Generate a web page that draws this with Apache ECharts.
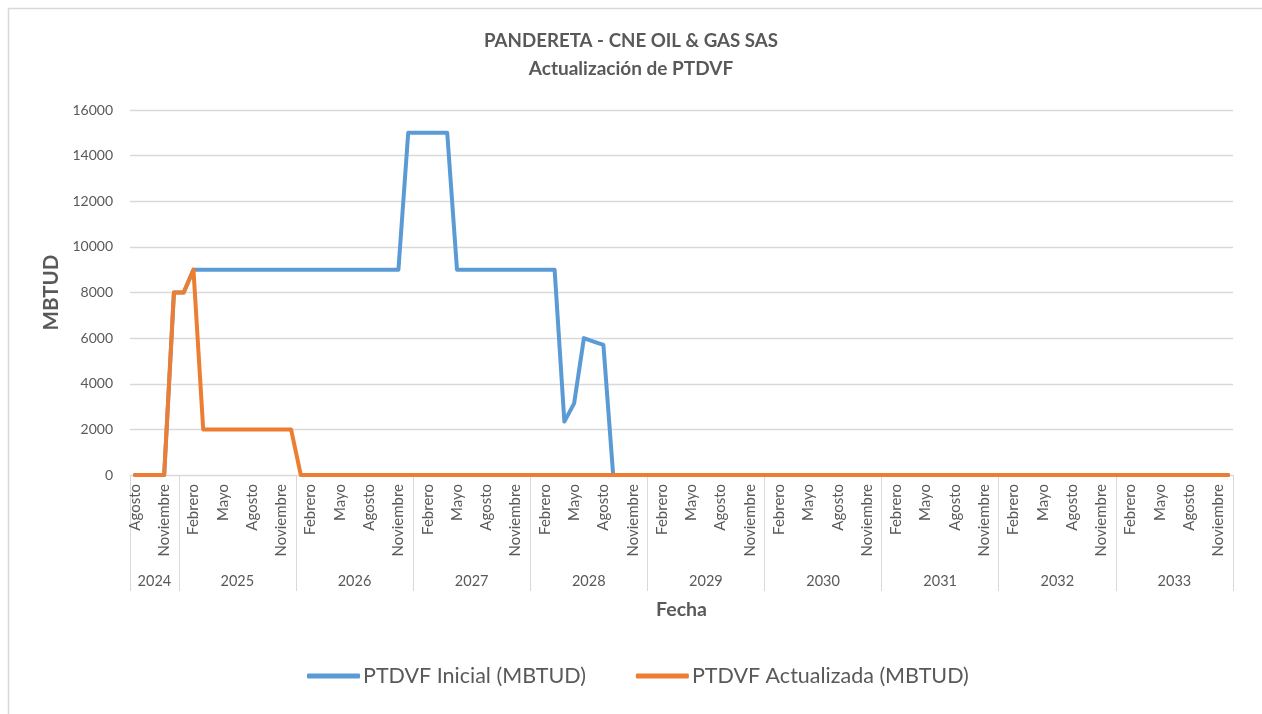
<!DOCTYPE html>
<html>
<head>
<meta charset="utf-8">
<script src="https://cdn.jsdelivr.net/npm/echarts@6/dist/echarts.min.js"></script>
<style>
html,body{margin:0;padding:0;background:#fff;}
#chart{width:1262px;height:714px;}
</style>
</head>
<body>
<div id="chart"></div>
<script>
// Month names (Spanish) and years covered: Agosto 2024 .. Diciembre 2033
const monthNames = ['Enero','Febrero','Marzo','Abril','Mayo','Junio','Julio','Agosto','Septiembre','Octubre','Noviembre','Diciembre'];
const years = ['2024','2025','2026','2027','2028','2029','2030','2031','2032','2033'];
const startMonth = 7; // Agosto 2024

// PTDVF Inicial (MBTUD), monthly from Agosto 2024
const inicial = [
  0, 0, 0, 0, 8000,                                                   // 2024 Ago-Dic
  8000, 9000, 9000, 9000, 9000, 9000, 9000, 9000, 9000, 9000, 9000, 9000, // 2025
  9000, 9000, 9000, 9000, 9000, 9000, 9000, 9000, 9000, 9000, 9000, 15000, // 2026
  15000, 15000, 15000, 15000, 9000, 9000, 9000, 9000, 9000, 9000, 9000, 9000, // 2027
  9000, 9000, 9000, 2340, 3140, 6000, 5850, 5700, 0, 0, 0, 0,            // 2028
  0, 0, 0, 0, 0, 0, 0, 0, 0, 0, 0, 0,                                   // 2029
  0, 0, 0, 0, 0, 0, 0, 0, 0, 0, 0, 0,                                   // 2030
  0, 0, 0, 0, 0, 0, 0, 0, 0, 0, 0, 0,                                   // 2031
  0, 0, 0, 0, 0, 0, 0, 0, 0, 0, 0, 0,                                   // 2032
  0, 0, 0, 0, 0, 0, 0, 0, 0, 0, 0, 0                                    // 2033
];

// PTDVF Actualizada (MBTUD), monthly from Agosto 2024
const actualizada = [
  0, 0, 0, 0, 8000,                                                   // 2024 Ago-Dic
  8000, 9000, 2000, 2000, 2000, 2000, 2000, 2000, 2000, 2000, 2000, 2000, // 2025
  0, 0, 0, 0, 0, 0, 0, 0, 0, 0, 0, 0,                                   // 2026
  0, 0, 0, 0, 0, 0, 0, 0, 0, 0, 0, 0,                                   // 2027
  0, 0, 0, 0, 0, 0, 0, 0, 0, 0, 0, 0,                                   // 2028
  0, 0, 0, 0, 0, 0, 0, 0, 0, 0, 0, 0,                                   // 2029
  0, 0, 0, 0, 0, 0, 0, 0, 0, 0, 0, 0,                                   // 2030
  0, 0, 0, 0, 0, 0, 0, 0, 0, 0, 0, 0,                                   // 2031
  0, 0, 0, 0, 0, 0, 0, 0, 0, 0, 0, 0,                                   // 2032
  0, 0, 0, 0, 0, 0, 0, 0, 0, 0, 0, 0                                    // 2033
];

// y ticks
const yTicks = [0, 2000, 4000, 6000, 8000, 10000, 12000, 14000, 16000];

// Build month categories and year groups
const categories = [];
const yearOfIndex = [];
for (let i = 0; i < inicial.length; i++) {
  const m = (startMonth + i) % 12;
  const y = 2024 + Math.floor((startMonth + i) / 12);
  categories.push(monthNames[m]);
  yearOfIndex.push(String(y));
}
const boundaries = [];
const centers = [];
const centerYear = {};
{
  let start = 0;
  for (let i = 1; i <= categories.length; i++) {
    if (i === categories.length || yearOfIndex[i] !== yearOfIndex[i - 1]) {
      boundaries.push(start - 0.5);
      const c = (start + i - 1) / 2;
      centers.push(c);
      centerYear[c] = yearOfIndex[start];
      start = i;
    }
  }
  boundaries.push(categories.length - 0.5);
}

const FONT = 'Lato, "Open Sans", sans-serif';
const GREY = '#595959';

const chart = echarts.init(document.getElementById('chart'), null, {renderer: 'canvas'});
chart.setOption({
  backgroundColor: '#ffffff',
  animation: false,
  graphic: [{
    type: 'rect', left: 6, top: 6, silent: true,
    shape: {width: 1255, height: 730},
    style: {fill: 'none', stroke: '#d9d9d9', lineWidth: 1.5}
  }],
  title: {
    text: 'PANDERETA - CNE OIL & GAS SAS',
    subtext: 'Actualización de PTDVF',
    left: 'center', top: 26, itemGap: 9,
    textStyle: {fontFamily: FONT, fontSize: 18.7, fontWeight: 'bold', color: GREY},
    subtextStyle: {fontFamily: FONT, fontSize: 19, fontWeight: 'bold', color: GREY}
  },
  legend: {
    bottom: 22, left: 302,
    icon: 'roundRect', itemWidth: 53, itemHeight: 5, itemGap: 50,
    textStyle: {fontFamily: FONT, fontSize: 21.5, color: GREY, padding: [0, 0, 0, -2]},
    data: ['PTDVF Inicial (MBTUD)', 'PTDVF Actualizada (MBTUD)']
  },
  grid: {left: 130, right: 29, top: 110, bottom: 239, containLabel: false},
  xAxis: [{
    type: 'category',
    data: categories,
    boundaryGap: true,
    name: 'Fecha', nameLocation: 'middle', nameGap: 125,
    nameTextStyle: {fontFamily: FONT, fontSize: 19.5, fontWeight: 'bold', color: GREY},
    axisLine: {show: true, lineStyle: {color: '#d9d9d9', width: 1}},
    axisTick: {show: false},
    axisLabel: {
      rotate: 90, margin: 9, fontFamily: FONT, fontSize: 15, color: GREY,
      interval: function (i) { return ((startMonth + i) % 12) % 3 === 1; }
    },
    splitLine: {show: false}
  }, {
    type: 'value',
    position: 'bottom',
    min: -0.5, max: categories.length - 0.5,
    axisLine: {show: false},
    axisTick: {show: true, inside: false, length: 116, customValues: boundaries,
      lineStyle: {color: '#d9d9d9', width: 1}},
    axisLabel: {show: true, customValues: centers, margin: 99,
      fontFamily: FONT, fontSize: 14.5, color: GREY,
      formatter: function (v) { return centerYear[v] || ''; }},
    splitLine: {show: false}
  }],
  yAxis: {
    type: 'value', min: yTicks[0], max: yTicks[yTicks.length - 1], interval: 2000,
    name: 'MBTUD', nameLocation: 'middle', nameGap: 62, nameRotate: 90,
    nameTextStyle: {fontFamily: FONT, fontSize: 20.5, fontWeight: 'bold', color: GREY},
    axisLine: {show: false},
    axisTick: {show: false},
    axisLabel: {margin: 17, fontFamily: FONT, fontSize: 14, color: GREY,
      formatter: function (v) { return String(v); }},
    splitLine: {show: true, lineStyle: {color: '#d9d9d9', width: 1.3}}
  },
  series: [{
    name: 'PTDVF Inicial (MBTUD)',
    type: 'line', xAxisIndex: 0, data: inicial,
    symbol: 'none', smooth: false,
    itemStyle: {color: '#5b9bd5'},
    lineStyle: {color: '#5b9bd5', width: 4, cap: 'round', join: 'round'}
  }, {
    name: 'PTDVF Actualizada (MBTUD)',
    type: 'line', xAxisIndex: 0, data: actualizada,
    symbol: 'none', smooth: false,
    itemStyle: {color: '#ed7d31'},
    lineStyle: {color: '#ed7d31', width: 4, cap: 'round', join: 'round'}
  }]
});
</script>
</body>
</html>
